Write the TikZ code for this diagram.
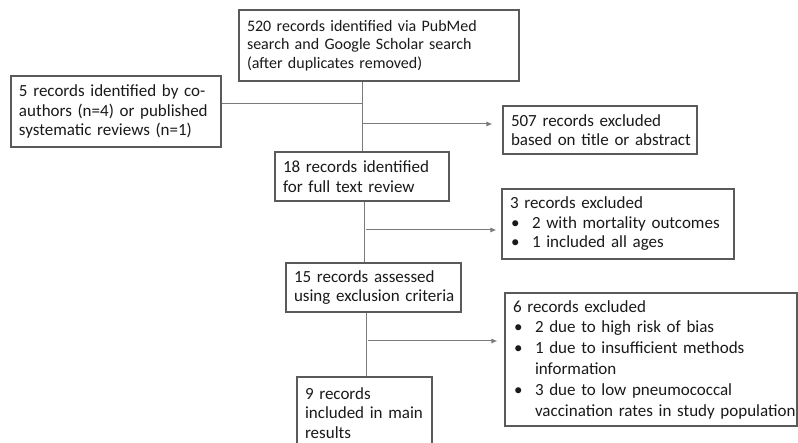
\documentclass[tikz,border=0pt]{standalone}
\usepackage{fontspec}
\setmainfont{Carlito}
\usetikzlibrary{arrows.meta}
\definecolor{boxc}{HTML}{5A5A5A}
\definecolor{linec}{HTML}{7A7A7A}
\definecolor{txtc}{HTML}{1A1A1A}
\newcommand{\bodyfs}{\fontsize{17}{19.5}\selectfont}
\newcommand{\topfs}{\fontsize{16}{18.5}\selectfont}
\newcommand{\listfs}{\fontsize{17}{20.8}\selectfont}
\newcommand{\myitem}[1]{\mbox{\makebox[22pt][l]{\hspace{1pt}\textbullet}#1}}
\newcommand{\mycont}[1]{\mbox{\hspace*{22pt}#1}}
\tikzset{
  box/.style={draw=boxc, line width=1.1pt, rectangle, inner xsep=8pt, inner ysep=0pt,
    align=left, text=txtc, font=\bodyfs},
  conn/.style={draw=linec, line width=1pt},
  arr/.style={conn, -{Latex[length=6pt,width=5pt]}}
}
\begin{document}
\begin{tikzpicture}[x=1pt,y=-1pt]
\useasboundingbox (0,0) rectangle (798,443);
\clip (0,0) rectangle (798,443);
\fill[white] (0,0) rectangle (798,443);

\node[box, font=\topfs, minimum width=280pt, minimum height=71pt, text width=264pt] (top) at (379,45.5)
  {\mbox{520 records identified via PubMed}\\\mbox{search and Google Scholar search}\\\mbox{(after duplicates removed)}};
\node[box, minimum width=210pt, minimum height=71pt, text width=194pt] (left) at (116,111.5)
  {\mbox{5 records identified by co-}\\\mbox{authors (n=4) or published}\\\mbox{systematic reviews (n=1)}};
\node[box, minimum width=194pt, minimum height=48pt, text width=178pt] (ex1) at (600,130)
  {\mbox{507 records excluded}\\\mbox{based on title or abstract}};
\node[box, minimum width=174pt, minimum height=49pt, text width=158pt] (full) at (362,176.5)
  {\mbox{18 records identified}\\\mbox{for full text review}};
\node[box, minimum width=232pt, minimum height=70pt, text width=216pt] (ex2) at (618,224)
  {\mbox{3 records excluded}\\\myitem{2 with mortality outcomes}\\\myitem{1 included all ages}};
\node[box, minimum width=175pt, minimum height=49pt, text width=159pt] (ass) at (373.5,287.5)
  {\mbox{15 records assessed}\\\mbox{using exclusion criteria}};
\node[box, font=\listfs, minimum width=292pt, minimum height=133pt, text width=276pt] (ex3) at (651,359.5)
  {\mbox{6 records excluded}\\\myitem{2 due to high risk of bias}\\\myitem{1 due to insufficient methods}\\\mycont{information}\\\myitem{3 due to low pneumococcal}\\\mycont{vaccination rates in study population}};
\node[box, minimum width=135pt, minimum height=72pt, text width=119pt] (inc) at (364.5,413)
  {\mbox{9 records}\\\mbox{included in main}\\\mbox{results}};

\coordinate (j0) at (362,104);
\coordinate (c1) at (362,124);
\coordinate (c2) at (364,230);
\coordinate (c3) at (366,341);

\draw[conn] (top.south -| full.north) -- (full.north);
\draw[conn] (left.east |- j0) -- (j0);
\draw[arr, shorten >=10pt] (c1) -- (c1 -| ex1.west);

\draw[conn] (full.south -| c2) -- (ass.north -| c2);
\draw[arr, shorten <=2pt, shorten >=5pt] (c2) -- (c2 -| ex2.west);

\draw[conn] (ass.south -| c3) -- (inc.north -| c3);
\draw[arr, shorten <=2pt, shorten >=7pt] (c3) -- (c3 -| ex3.west);
\end{tikzpicture}
\end{document}
